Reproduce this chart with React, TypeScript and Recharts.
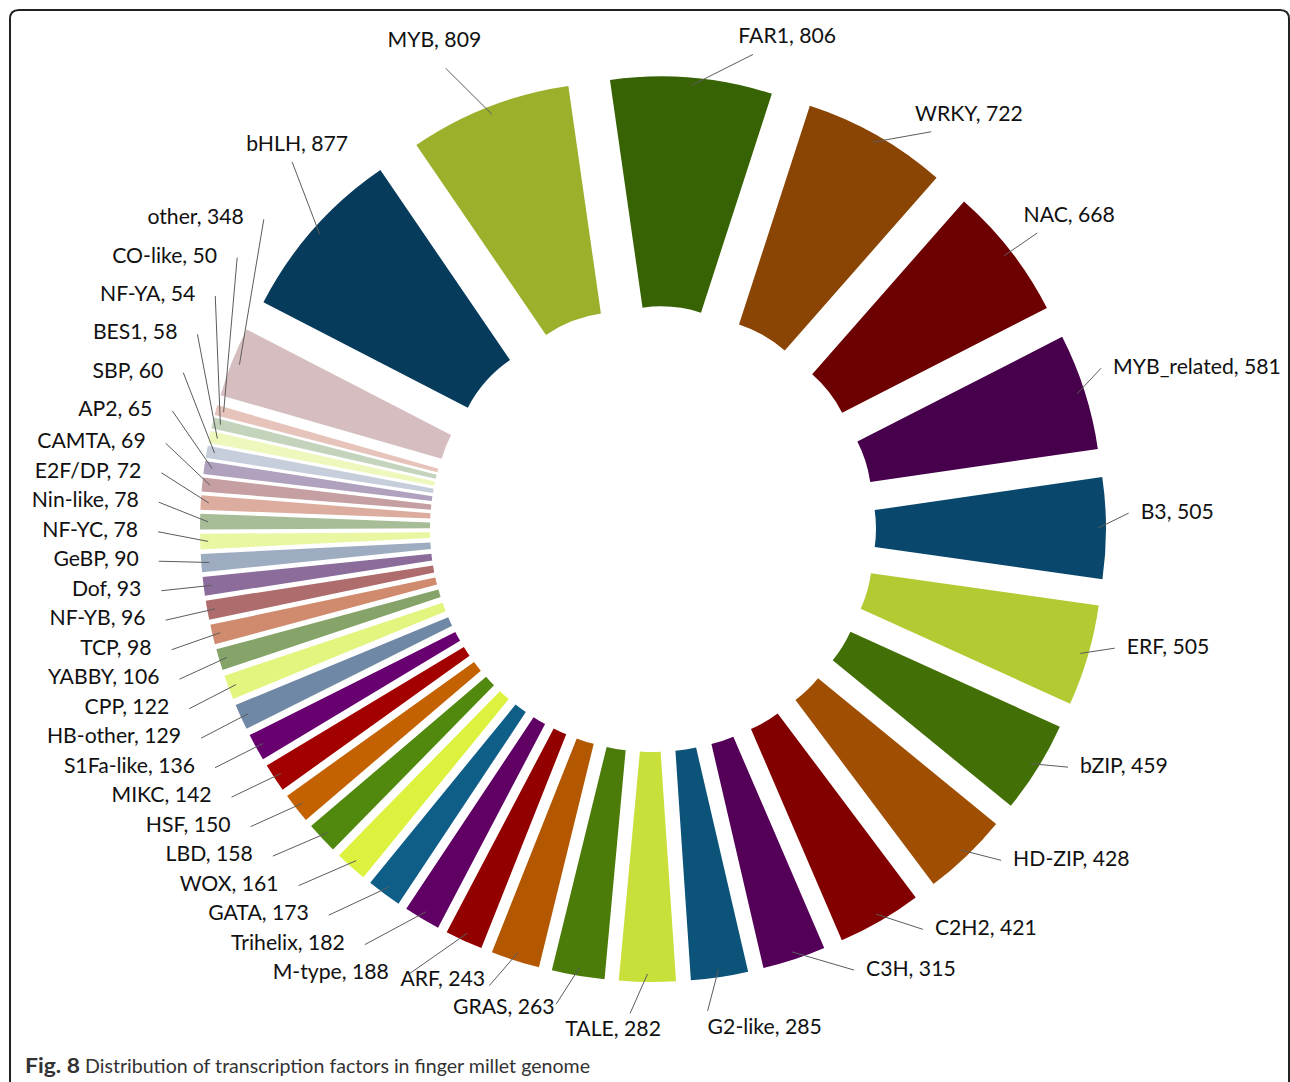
import React from 'react';
import { PieChart, Pie, Cell, Sector } from 'recharts';

// Transcription factor families, clockwise from bHLH
const families = [
  'bHLH', 'MYB', 'FAR1', 'WRKY', 'NAC', 'MYB_related',
  'B3', 'ERF', 'bZIP', 'HD-ZIP', 'C2H2', 'C3H',
  'G2-like', 'TALE', 'GRAS', 'ARF', 'M-type', 'Trihelix',
  'GATA', 'WOX', 'LBD', 'HSF', 'MIKC', 'S1Fa-like',
  'HB-other', 'CPP', 'YABBY', 'TCP', 'NF-YB', 'Dof',
  'GeBP', 'NF-YC', 'Nin-like', 'E2F/DP', 'CAMTA', 'AP2',
  'SBP', 'BES1', 'NF-YA', 'CO-like', 'other',
];

const counts = [
  877, 809, 806, 722, 668, 581,
  505, 505, 459, 428, 421, 315,
  285, 282, 263, 243, 188, 182,
  173, 161, 158, 150, 142, 136,
  129, 122, 106, 98, 96, 93,
  90, 78, 78, 72, 69, 65,
  60, 58, 54, 50, 348,
];

const sliceColors = [
  '#073B5C', '#9CB02B', '#376304', '#8A4403', '#6D0000', '#47004B',
  '#09486C', '#B4CA32', '#437006', '#A04F02', '#820000', '#540058',
  '#0B5379', '#C9DF3A', '#4B7C0A', '#B35800', '#930000', '#600065',
  '#0E5E88', '#DDF23E', '#50890E', '#C46202', '#A30000', '#690070',
  '#6F88A6', '#E3F57F', '#86A46A', '#D08B6E', '#AE6C6D', '#8C6C9B',
  '#9DACC1', '#EAF7A2', '#A7BD98', '#DCAD9E', '#C59FA1', '#B0A2BE',
  '#C5CEDA', '#EEF8BC', '#C3D3BC', '#E6C4BB', '#D6BDBF',
];

const WIDTH = 1290;
const HEIGHT = 1082;
const CX = 653;
const CY = 529;
const INNER_R = 130;
const OUTER_R = 360;
const EXPLODE = 93; // every slice pulled out along its mid angle
const START_ANGLE = 152.7;
const FONT = 'Lato, "Open Sans", sans-serif';
const FS = 21.2;
const RAD = Math.PI / 180;

const data = families.map((name, i) => ({ name, value: counts[i] }));

const labelText = (i: number) => `${families[i]}, ${counts[i]}`;

let measureCtx: CanvasRenderingContext2D | null = null;
const textWidth = (s: string) => {
  try {
    if (!measureCtx) measureCtx = document.createElement('canvas').getContext('2d');
    if (measureCtx) {
      measureCtx.font = `${FS}px Lato`;
      return measureCtx.measureText(s).width;
    }
  } catch (e) {
    // fall through
  }
  return s.length * 10.5;
};

const clamp = (v: number, lo: number, hi: number) => Math.min(hi, Math.max(lo, v));

type LabelSpot = {
  x: number; y: number; anchor: 'start' | 'middle' | 'end';
  x1: number; y1: number; x2: number; y2: number;
};

// spread a column of y values so neighbours keep a minimum gap
const spreadColumn = (ys: number[], gapMin: number) => {
  const order = ys.map((_, k) => k).sort((p, q) => ys[p] - ys[q]);
  for (let it = 0; it < 800; it++) {
    let moved = false;
    for (let j = 0; j < order.length - 1; j++) {
      const a = order[j], b = order[j + 1];
      const gap = ys[b] - ys[a];
      if (gap < gapMin - 0.01) {
        const s = (gapMin - gap) / 2;
        ys[a] -= s; ys[b] += s; moved = true;
      }
    }
    if (!moved) break;
  }
};

// label placement: a column on each side, leaders hung off the top and bottom
const buildLabels = (): LabelSpot[] => {
  const total = counts.reduce((a, b) => a + b, 0);
  let acc = 0;
  const mids = counts.map((v) => {
    const m = START_ANGLE - ((acc + v / 2) / total) * 360;
    acc += v;
    return m;
  });
  const spots: LabelSpot[] = new Array(counts.length);
  const tip = (a: number) => ({
    x: CX + (EXPLODE + OUTER_R - 8) * Math.cos(a * RAD),
    y: CY - (EXPLODE + OUTER_R - 8) * Math.sin(a * RAD),
  });
  const norm = (a: number) => ((a % 360) + 360) % 360;
  const idx = mids.map((_, i) => i);

  // left column, right-aligned on an arc; the top of the column is loosened
  const LCY = 499, LRHO = 510, LX = 515;
  const left = idx.filter((i) => norm(mids[i]) > 150 && norm(mids[i]) < 250);
  const ly = left.map((i) => LCY - LRHO * Math.sin(mids[i] * RAD));
  spreadColumn(ly, 29.5);
  left.forEach((i, k) => {
    const y = ly[k] - 0.3 * Math.max(0, 420 - ly[k]);
    const dy = y - CY;
    const xEnd = CX - Math.sqrt(Math.max(0, LX * LX - dy * dy));
    const t = tip(mids[i]);
    spots[i] = { x: xEnd, y, anchor: 'end', x1: xEnd + 20, y1: y + 3, x2: t.x, y2: t.y };
  });

  // right column, left-aligned on an arc
  const RCY = 512, RRHO = 480, RX = 488;
  const right = idx.filter((i) => {
    const n = norm(mids[i]);
    return n > 285 || n < 25;
  });
  const ry = right.map((i) => RCY - RRHO * Math.sin(mids[i] * RAD));
  spreadColumn(ry, 32);
  right.forEach((i, k) => {
    const y = ry[k];
    const dy = y - CY;
    const xStart = CX + Math.sqrt(Math.max(0, RX * RX - dy * dy));
    const t = tip(mids[i]);
    spots[i] = { x: xStart, y, anchor: 'start', x1: xStart - 12, y1: y + 2, x2: t.x, y2: t.y };
  });

  // top and bottom: label box hung off a leader end point
  const H = 22;
  const rest = idx.filter((i) => !left.includes(i) && !right.includes(i));
  rest.forEach((i) => {
    const m = mids[i];
    const c0 = Math.cos(m * RAD), s0 = Math.sin(m * RAD);
    const w = textWidth(labelText(i));
    const t = tip(m);
    if (s0 > 0) {
      // upper labels sit on top of the leader end, spread away from the vertical
      const nearTop = clamp((s0 - 0.85) / 0.08, 0, 1);
      const shift = c0 > 0
        ? -7 * clamp((s0 - 0.6) / 0.35, 0, 1)
        : 3 * nearTop - 4 * clamp((-c0 - 0.5) / 0.2, 0, 1);
      const a = (m + shift) * RAD;
      const rho = 485 + 60 * Math.max(0, -c0) * s0;
      const ex = CX + rho * Math.cos(a), ey = CY - rho * Math.sin(a);
      const f = c0 >= 0 ? 0.15 : c0 < -0.6 ? 0.45 : 0.62;
      const lift = c0 < 0 ? 10 * nearTop : 0;
      spots[i] = { x: ex - f * w + w / 2, y: ey - 8 - H / 2 - lift, anchor: 'middle', x1: ex, y1: ey, x2: t.x, y2: t.y };
    } else {
      // lower labels hang below / beside the leader end, staggered downwards
      const a = (m - 2) * RAD;
      const ex = CX + 485 * Math.cos(a), ey = CY - 485 * Math.sin(a);
      const f = c0 > 0 ? clamp(0.65 - 4.5 * c0, 0, 1) : clamp(0.65 - 2.2 * c0, 0, 1.05);
      const dy = c0 > -0.08 ? 15 : c0 > -0.2 ? 2 : -8;
      spots[i] = { x: ex - f * w + w / 2, y: ey + dy, anchor: 'middle', x1: ex, y1: ey, x2: t.x, y2: t.y };
    }
  });
  return spots;
};

const ExplodedSector = (props: any) => {
  const { cx, cy, midAngle, innerRadius, outerRadius, startAngle, endAngle, fill } = props;
  const a = midAngle * RAD;
  return (
    <Sector
      cx={cx + EXPLODE * Math.cos(a)}
      cy={cy - EXPLODE * Math.sin(a)}
      innerRadius={innerRadius}
      outerRadius={outerRadius}
      startAngle={startAngle}
      endAngle={endAngle}
      fill={fill}
      stroke="none"
    />
  );
};

export default function App() {
  const spots = React.useMemo(buildLabels, []);

  const renderLabel = (props: any) => {
    const l = spots[props.index];
    if (!l) return null;
    return (
      <g key={`lbl-${props.index}`}>
        <line x1={l.x1} y1={l.y1} x2={l.x2} y2={l.y2} stroke="#5c5c5c" strokeWidth={1} />
        <text
          x={l.x}
          y={l.y}
          textAnchor={l.anchor}
          dominantBaseline="central"
          fontFamily={FONT}
          fontSize={FS}
          fill="#111"
        >
          {labelText(props.index)}
        </text>
      </g>
    );
  };

  return (
    <div style={{ position: 'absolute', left: 0, top: 0, width: WIDTH, height: HEIGHT, background: '#fff', overflow: 'hidden' }}>
      <PieChart width={WIDTH} height={HEIGHT} margin={{ top: 0, right: 0, bottom: 0, left: 0 }}>
        <Pie
          data={data}
          dataKey="value"
          nameKey="name"
          cx={CX}
          cy={CY}
          innerRadius={INNER_R}
          outerRadius={OUTER_R}
          startAngle={START_ANGLE}
          endAngle={START_ANGLE - 360}
          stroke="none"
          shape={ExplodedSector}
          activeShape={ExplodedSector}
          label={renderLabel}
          labelLine={false}
          isAnimationActive={false}
        >
          {data.map((entry, index) => (
            <Cell key={`cell-${index}`} fill={sliceColors[index]} />
          ))}
        </Pie>
      </PieChart>
      <svg width={WIDTH} height={HEIGHT} style={{ position: 'absolute', left: 0, top: 0, pointerEvents: 'none' }}>
        <path d="M 10 1100 V 19 Q 10 10 19 10 H 1280 Q 1289 10 1289 19 V 1100" fill="none" stroke="#222" strokeWidth={2} />
        <text x={25} y={1073} fontFamily={FONT} fontSize={20} fontWeight={700} fill="#333" textLength={55} lengthAdjust="spacingAndGlyphs">
          Fig. 8
        </text>
        <text x={85} y={1073} fontFamily={FONT} fontSize={20} fill="#333" textLength={505} lengthAdjust="spacingAndGlyphs">
          Distribution of transcription factors in finger millet genome
        </text>
      </svg>
    </div>
  );
}
